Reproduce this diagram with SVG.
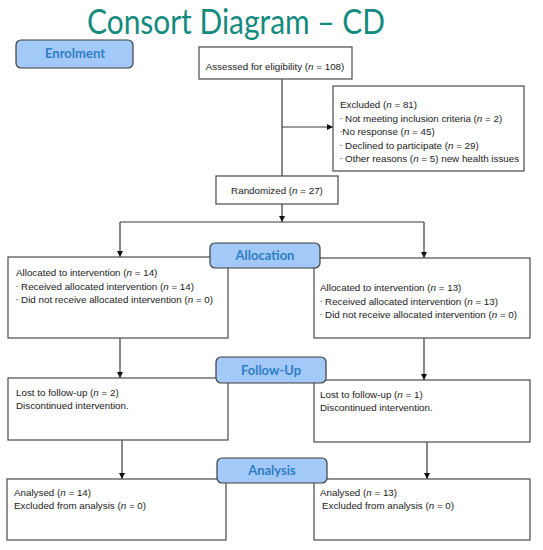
<svg xmlns="http://www.w3.org/2000/svg" width="543" height="550" viewBox="0 0 543 550">
<style>
.box{fill:#fff;stroke:#4a4a4a;stroke-width:1.2}
.lab{fill:#a3c9f9;stroke:#3c3c3c;stroke-width:1.2}
.lt{font-family:Lato,"Open Sans",sans-serif;font-weight:bold;font-size:13px;fill:#2f7ec3;text-anchor:middle}
.t{font-family:"Liberation Sans",Arial,sans-serif;font-size:9.8px;fill:#1a1a1a}
.c{text-anchor:middle}
.d{font-size:7px}
.ln{fill:none;stroke:#3a3a3a;stroke-width:1.2}
</style>
<defs>
<marker id="ah" viewBox="0 0 6 6" refX="6" refY="3" markerWidth="6" markerHeight="6" markerUnits="userSpaceOnUse" orient="auto">
<path d="M0,0 L6,3 L0,6 z" fill="#111"/>
</marker>
</defs>
<rect width="543" height="550" fill="#fff"/>
<text x="87" y="34" font-family="Lato,'Open Sans',sans-serif" font-size="35" fill="#138a7e" textLength="298" lengthAdjust="spacingAndGlyphs">Consort Diagram – CD</text>

<g id="connectors">
<line class="ln" x1="282" y1="79" x2="282" y2="176"/>
<line class="ln" x1="282" y1="127" x2="333" y2="127" marker-end="url(#ah)"/>
<line class="ln" x1="282" y1="204" x2="282" y2="222" marker-end="url(#ah)"/>
<line class="ln" x1="120" y1="222" x2="424" y2="222"/>
<line class="ln" x1="120" y1="222" x2="120" y2="257" marker-end="url(#ah)"/>
<line class="ln" x1="424" y1="222" x2="424" y2="258" marker-end="url(#ah)"/>
<line class="ln" x1="120" y1="338" x2="120" y2="378" marker-end="url(#ah)"/>
<line class="ln" x1="424" y1="338" x2="424" y2="380" marker-end="url(#ah)"/>
<line class="ln" x1="122" y1="440" x2="122" y2="479" marker-end="url(#ah)"/>
<line class="ln" x1="427" y1="442" x2="427" y2="479" marker-end="url(#ah)"/>
</g>

<g id="enrolment">
<rect class="lab" x="16" y="40" width="117" height="28" rx="5"/>
<text class="lt" x="75" y="58">Enrolment</text>
</g>

<g id="assessed">
<rect class="box" x="199" y="47" width="153" height="32"/>
<text class="t c" x="275" y="70">Assessed for eligibility (<tspan font-style="italic">n</tspan> = 108)</text>
</g>

<g id="excluded">
<rect class="box" x="333" y="86" width="191" height="85"/>
<text class="t" x="340" y="108">Excluded (<tspan font-style="italic">n</tspan> = 81)</text>
<text class="t" x="340" y="121.5"><tspan class="d" dy="-2">-</tspan><tspan dy="2"> Not meeting inclusion criteria (</tspan><tspan font-style="italic">n</tspan> = 2)</text>
<text class="t" x="340" y="135"><tspan class="d" dy="-2">-</tspan><tspan dy="2">No response (</tspan><tspan font-style="italic">n</tspan> = 45)</text>
<text class="t" x="340" y="148.5"><tspan class="d" dy="-2">-</tspan><tspan dy="2"> Declined to participate (</tspan><tspan font-style="italic">n</tspan> = 29)</text>
<text class="t" x="340" y="162"><tspan class="d" dy="-2">-</tspan><tspan dy="2"> Other reasons (</tspan><tspan font-style="italic">n</tspan>  = 5) new health issues</text>
</g>

<g id="randomized">
<rect class="box" x="216" y="176" width="122" height="28"/>
<text class="t c" x="277" y="194">Randomized (<tspan font-style="italic">n</tspan> = 27)</text>
</g>

<g id="alloc-left">
<rect class="box" x="8" y="257" width="220" height="81"/>
<text class="t" x="16" y="276">Allocated to intervention (<tspan font-style="italic">n</tspan> = 14)</text>
<text class="t" x="16" y="289.5"><tspan class="d" dy="-2">-</tspan><tspan dy="2"> Received allocated intervention (</tspan><tspan font-style="italic">n</tspan> = 14)</text>
<text class="t" x="16" y="303"><tspan class="d" dy="-2">-</tspan><tspan dy="2"> Did not receive allocated intervention (</tspan><tspan font-style="italic">n</tspan> = 0)</text>
</g>

<g id="alloc-right">
<rect class="box" x="314" y="258" width="216" height="80"/>
<text class="t" x="320" y="291">Allocated to intervention (<tspan font-style="italic">n</tspan> = 13)</text>
<text class="t" x="320" y="304.5"><tspan class="d" dy="-2">-</tspan><tspan dy="2"> Received allocated intervention (</tspan><tspan font-style="italic">n</tspan> = 13)</text>
<text class="t" x="320" y="318"><tspan class="d" dy="-2">-</tspan><tspan dy="2"> Did not receive allocated intervention (</tspan><tspan font-style="italic">n</tspan> = 0)</text>
</g>

<g id="allocation">
<rect class="lab" x="210" y="243" width="110" height="25" rx="5"/>
<text class="lt" x="265" y="260">Allocation</text>
</g>

<g id="follow-left">
<rect class="box" x="8" y="378" width="220" height="62"/>
<text class="t" x="16" y="396">Lost to follow-up (<tspan font-style="italic">n</tspan> = 2)</text>
<text class="t" x="16" y="409">Discontinued intervention.</text>
</g>

<g id="follow-right">
<rect class="box" x="314" y="380" width="216" height="62"/>
<text class="t" x="320" y="398">Lost to follow-up (<tspan font-style="italic">n</tspan> = 1)</text>
<text class="t" x="320" y="411">Discontinued intervention.</text>
</g>

<g id="followup">
<rect class="lab" x="216" y="357" width="110" height="26" rx="5"/>
<text class="lt" x="271" y="375">Follow-Up</text>
</g>

<g id="analysis-left">
<rect class="box" x="7" y="479" width="219" height="61"/>
<text class="t" x="14" y="496">Analysed (<tspan font-style="italic">n</tspan> = 14)</text>
<text class="t" x="14" y="509">Excluded from analysis (<tspan font-style="italic">n</tspan> = 0)</text>
</g>

<g id="analysis-right">
<rect class="box" x="314" y="479" width="216" height="61"/>
<text class="t" x="320" y="496">Analysed (<tspan font-style="italic">n</tspan> = 13)</text>
<text class="t" x="322" y="509">Excluded from analysis (<tspan font-style="italic">n</tspan> = 0)</text>
</g>

<g id="analysis">
<rect class="lab" x="217" y="458" width="110" height="25" rx="5"/>
<text class="lt" x="272" y="475">Analysis</text>
</g>
</svg>
